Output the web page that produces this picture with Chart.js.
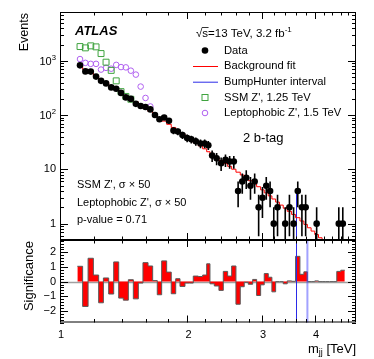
<!DOCTYPE html>
<html>
<head>
<meta charset="utf-8">
<title>Dijet 2 b-tag</title>
<script src="https://cdn.jsdelivr.net/npm/chart.js@4.4.1/dist/chart.umd.min.js"></script>
<style>
  html, body { margin: 0; padding: 0; background: #fff; }
  #wrap { position: relative; width: 374px; height: 359px; }
  canvas { position: absolute; left: 0; }
  #top { top: 0; }
  #bot { top: 240px; }
</style>
</head>
<body>
<div id="wrap">
  <canvas id="top" width="374" height="240"></canvas>
  <canvas id="bot" width="374" height="119"></canvas>
</div>
<script>
// ====== Data ======
// bin edges in TeV (62 bins)
const binEdges = [1.099, 1.131, 1.165, 1.199, 1.234, 1.266, 1.303, 1.339, 1.376, 1.411,
  1.450, 1.490, 1.531, 1.570, 1.614, 1.655, 1.697, 1.738, 1.786, 1.831,
  1.876, 1.920, 1.973, 2.020, 2.064, 2.121, 2.172, 2.220, 2.260, 2.314,
  2.373, 2.430, 2.488, 2.543, 2.603, 2.665, 2.723, 2.783, 2.851, 2.913,
  2.977, 3.036, 3.103, 3.165, 3.230, 3.297, 3.366, 3.440, 3.523, 3.600,
  3.686, 3.766, 3.839, 3.917, 3.996, 4.078, 4.158, 4.243, 4.327, 4.414,
  4.504, 4.603, 4.704];

const dataCounts = [830, 643, 637, 515, 430, 386, 326, 308, 258, 213,
  200, 162, 148, 142, 128, 101, 84, 91, 79, 52,
  50, 43, 38, 36, 33, 30, 30, 28, 18, 16,
  13, 15, 14, 14, 4, 6, 7, 5, 6, 2,
  3, 5, 4, 1, 2, 0, 1, 2, 1, 4,
  2, 2, 0, 0, 1, 0, 0, 0, 0, 0,
  1, 1];

const bkgFit = [805, 700, 610, 530, 462, 403, 350, 305, 266, 231,
  201, 176, 153, 134, 117, 102, 89, 78, 68, 59.5,
  52, 45.5, 40, 35, 31, 27.2, 24, 21.2, 18.7, 16.5,
  14.6, 12.9, 11.4, 10.1, 8.9, 7.9, 7.0, 6.2, 5.5, 4.8,
  4.2, 3.7, 3.25, 2.85, 2.5, 2.2, 1.93, 1.69, 1.48, 1.29,
  1.12, 0.97, 0.84, 0.73, 0.63, 0.55, 0.48, 0.41, 0.36, 0.31,
  0.27, 0.23];

const significance = [1.05, -1.7, 1.6, 0.45, -1.45, 0.25, -0.85, 1.35, -1.13, -1.27,
  0.13, -1.18, -0.1, 1.3, 1.07, 0.07, -0.9, 1.42, 0.65, -0.83,
  0.2, -0.33, -0.1, -0.1, 0.38, 0.35, 0.45, 1.22, -0.15, -0.3,
  -0.6, 0.7, 0.38, 1.07, -1.55, -0.35, -0.05, -0.18, 0.15, -0.95,
  -0.22, 0.55, 0.3, -0.7, 0, 0, -0.15, 0.05, 0.02, 1.73,
  0.5, 0.67, 0, 0, 0.05, 0, 0, 0, 0, 0,
  0.7, 0.78];

// signal + background, first bins only
const ssmSignal = [1845, 1745, 1900, 1820, 1370, 950, 671, 430, 272, 222, 197];
const leptoSignal = [1084, 923, 885, 885, 694, 746, 721, 847, 772, 762, 662, 561, 337, 208, 145];

const bumpInterval = [3.600, 3.839];
const bumpLineTop = 4.2;

// ====== Axis ticks ======
const xTickLabels = [1, 2, 3, 4];
const yTickLabels = [1, 10, 100, 1000];
const sigTickLabels = [2, 1, 0, -1, -2];

const FONT = "'Liberation Sans', Arial, Helvetica, sans-serif";

function binCenter(i) { return (binEdges[i] + binEdges[i + 1]) / 2; }
function stepPoints(vals) {
  return binEdges.map((e, i) => ({ x: e, y: vals[Math.min(i, vals.length - 1)] }));
}

const xMinor = [];
for (let k = 12; k <= 48; k += 2) if (k % 10 !== 0) xMinor.push(k / 10);
const yMinor = [];
[0.1, 1, 10, 100, 1000].forEach(d => {
  for (let m = 2; m <= 9; m++) { const v = m * d; if (v >= 0.5 && v <= 8000) yMinor.push(v); }
});
const sigMinor = [];
for (let k = -14; k <= 14; k++) if (k % 5 !== 0) sigMinor.push(k / 5);

// ====== Drawing helpers ======
function drawFrame(chart, yMaj, yMin) {
  const { ctx, chartArea: a, scales } = chart;
  ctx.save();
  ctx.strokeStyle = '#000';
  ctx.lineWidth = 1;
  ctx.beginPath();
  const xt = xTickLabels.map(v => [v, 7]).concat(xMinor.map(v => [v, 3.5]));
  xt.forEach(([v, L]) => {
    const px = Math.round(scales.x.getPixelForValue(v)) + 0.5;
    ctx.moveTo(px, a.top); ctx.lineTo(px, a.top + L);
    ctx.moveTo(px, a.bottom); ctx.lineTo(px, a.bottom - L);
  });
  const yt = yMaj.map(v => [v, 8]).concat(yMin.map(v => [v, 4]));
  yt.forEach(([v, L]) => {
    const py = Math.round(scales.y.getPixelForValue(v)) + 0.5;
    ctx.moveTo(a.left, py); ctx.lineTo(a.left + L, py);
    ctx.moveTo(a.right, py); ctx.lineTo(a.right - L, py);
  });
  ctx.stroke();
  ctx.strokeRect(a.left + 0.5, a.top + 0.5, a.right - a.left - 1, a.bottom - a.top - 1);
  ctx.restore();
}

function textSup(ctx, x, y, base, sup, size, align) {
  ctx.font = size + 'px ' + FONT;
  const wb = ctx.measureText(base).width;
  const ss = size * 0.7;
  ctx.font = ss + 'px ' + FONT;
  const ws = ctx.measureText(sup).width;
  const x0 = align === 'right' ? x - wb - ws : x;
  ctx.textAlign = 'left';
  ctx.textBaseline = 'middle';
  ctx.font = size + 'px ' + FONT;
  ctx.fillText(base, x0, y);
  ctx.font = ss + 'px ' + FONT;
  ctx.fillText(sup, x0 + wb, y - size * 0.38);
}

function text(ctx, s, x, y, size, align, style) {
  ctx.font = (style ? style + ' ' : '') + size + 'px ' + FONT;
  ctx.textAlign = align || 'left';
  ctx.textBaseline = 'middle';
  ctx.fillText(s, x, y);
}

const GREEN = '#3fa33f';
const PURPLE = '#b060f0';
const BLUE = '#2a2ae8';

// ====== Top panel ======
const topDecor = {
  id: 'topDecor',
  beforeDatasetsDraw(chart) {
    const { ctx, chartArea: a, scales: { x, y } } = chart;
    const px = Math.round(x.getPixelForValue(bumpInterval[0])) + 0.5;
    ctx.save();
    ctx.strokeStyle = BLUE; ctx.lineWidth = 1;
    ctx.beginPath();
    ctx.moveTo(px, a.bottom); ctx.lineTo(px, y.getPixelForValue(bumpLineTop));
    ctx.stroke();
    ctx.restore();
  },
  afterDatasetsDraw(chart) {
    const { ctx, chartArea: a, scales: { x, y } } = chart;
    ctx.save();
    ctx.beginPath(); ctx.rect(a.left, a.top, a.width, a.height); ctx.clip();
    ctx.strokeStyle = '#000'; ctx.lineWidth = 1.6;
    ctx.beginPath();
    dataCounts.forEach((n, i) => {
      if (n <= 0) return;
      const px = x.getPixelForValue(binCenter(i));
      const err = Math.sqrt(n);
      const lo = n - err > 0.3 ? y.getPixelForValue(n - err) : a.bottom + 2;
      ctx.moveTo(px, lo); ctx.lineTo(px, y.getPixelForValue(n + err));
    });
    ctx.stroke();
    ctx.restore();
  },
  afterDraw(chart) {
    const { ctx, scales: { y } } = chart;
    drawFrame(chart, yTickLabels, yMinor);
    ctx.save();
    ctx.fillStyle = '#000';
    yTickLabels.forEach(v => {
      const py = y.getPixelForValue(v);
      if (v <= 10) text(ctx, String(v), 56, py, 11, 'right');
      else textSup(ctx, 56, py + 1, '10', String(Math.round(Math.log10(v))), 11, 'right');
    });
    // y title
    ctx.save();
    ctx.translate(25, 13);
    ctx.rotate(-Math.PI / 2);
    text(ctx, 'Events', 0, 0, 12.5, 'right');
    ctx.restore();

    text(ctx, 'ATLAS', 75, 31, 13, 'left', 'italic bold');

    // sqrt(s) label
    ctx.font = '11.5px ' + FONT;
    const wr = ctx.measureText('\u221A').width;
    const wsl = ctx.measureText('s').width;
    text(ctx, '\u221A', 196, 34, 11.5, 'left');
    ctx.beginPath();
    ctx.strokeStyle = '#000'; ctx.lineWidth = 0.8;
    ctx.moveTo(196 + wr - 0.5, 27.5); ctx.lineTo(196 + wr + wsl + 0.5, 27.5);
    ctx.stroke();
    textSup(ctx, 196 + wr, 34, 's=13 TeV, 3.2 fb', '-1', 11.5, 'left');

    // legend
    const lx = 205, tx = 224;
    const rows = [50.5, 66, 81.7, 97.5, 113];
    ctx.fillStyle = '#000';
    ctx.beginPath(); ctx.arc(lx, rows[0], 3.3, 0, Math.PI * 2); ctx.fill();
    ctx.lineWidth = 1;
    ctx.strokeStyle = '#ff0000';
    ctx.beginPath(); ctx.moveTo(193, rows[1] + 0.5); ctx.lineTo(218, rows[1] + 0.5); ctx.stroke();
    ctx.strokeStyle = BLUE;
    ctx.beginPath(); ctx.moveTo(193, rows[2] + 0.5); ctx.lineTo(218, rows[2] + 0.5); ctx.stroke();
    ctx.strokeStyle = GREEN;
    ctx.strokeRect(lx - 3, rows[3] - 3, 6, 6);
    ctx.strokeStyle = PURPLE;
    ctx.beginPath(); ctx.arc(lx, rows[4], 2.8, 0, Math.PI * 2); ctx.stroke();
    ctx.fillStyle = '#000';
    ['Data', 'Background fit', 'BumpHunter interval', "SSM Z', 1.25 TeV", "Leptophobic Z', 1.5 TeV"]
      .forEach((s, i) => text(ctx, s, tx, rows[i], 11.2, 'left'));

    text(ctx, '2 b-tag', 243, 138.5, 13, 'left');
    text(ctx, "SSM Z', \u03C3 \u00D7 50", 77, 185, 11, 'left');
    text(ctx, "Leptophobic Z', \u03C3 \u00D7 50", 77, 202.7, 11, 'left');
    text(ctx, 'p-value = 0.71', 77, 220, 11, 'left');
    ctx.restore();
  }
};

new Chart(document.getElementById('top'), {
  type: 'scatter',
  data: {
    datasets: [
      {
        label: 'Data',
        data: dataCounts.map((n, i) => ({ x: binCenter(i), y: n })).filter(p => p.y > 0),
        pointRadius: 3.3, backgroundColor: '#000', borderWidth: 0
      },
      {
        label: "SSM Z', 1.25 TeV",
        data: ssmSignal.map((n, i) => ({ x: binCenter(i), y: n })),
        pointStyle: 'rect', pointRadius: 4.2,
        borderColor: GREEN, backgroundColor: 'rgba(0,0,0,0)', borderWidth: 1
      },
      {
        label: "Leptophobic Z', 1.5 TeV",
        data: leptoSignal.map((n, i) => ({ x: binCenter(i), y: n })),
        pointStyle: 'circle', pointRadius: 2.8,
        borderColor: PURPLE, backgroundColor: 'rgba(0,0,0,0)', borderWidth: 1
      },
      {
        label: 'Background fit',
        type: 'line',
        data: stepPoints(bkgFit),
        stepped: 'before',
        borderColor: '#ff0000', borderWidth: 1,
        pointRadius: 0, fill: false, clip: 0
      }
    ]
  },
  options: {
    responsive: false, animation: false, devicePixelRatio: 1,
    layout: { autoPadding: false, padding: { left: 60, right: 18, top: 12, bottom: 0 } },
    plugins: { legend: { display: false }, tooltip: { enabled: false } },
    scales: {
      x: { type: 'logarithmic', min: 1, max: 5, display: false },
      y: { type: 'logarithmic', min: 0.5, max: 8000, display: false }
    }
  },
  plugins: [topDecor]
});

// ====== Bottom panel ======
const botDecor = {
  id: 'botDecor',
  beforeDatasetsDraw(chart) {
    const { ctx, chartArea: a, scales: { y } } = chart;
    const py = Math.round(y.getPixelForValue(0)) + 0.5;
    ctx.save();
    ctx.strokeStyle = '#a0a0a0'; ctx.lineWidth = 1.5;
    ctx.beginPath(); ctx.moveTo(a.left, py); ctx.lineTo(a.right, py); ctx.stroke();
    ctx.restore();
  },
  afterDatasetsDraw(chart) {
    const { ctx, chartArea: a, scales: { x } } = chart;
    ctx.save();
    const p1 = Math.round(x.getPixelForValue(bumpInterval[0])) + 0.5;
    const p2 = x.getPixelForValue(bumpInterval[1]);
    ctx.strokeStyle = BLUE; ctx.lineWidth = 1;
    ctx.beginPath(); ctx.moveTo(p1, a.top); ctx.lineTo(p1, a.bottom); ctx.stroke();
    ctx.strokeStyle = 'rgba(70,70,255,0.5)'; ctx.lineWidth = 2;
    ctx.beginPath(); ctx.moveTo(p2, a.top); ctx.lineTo(p2, a.bottom); ctx.stroke();
    ctx.restore();
  },
  afterDraw(chart) {
    const { ctx, chartArea: a, scales: { x, y } } = chart;
    drawFrame(chart, sigTickLabels, sigMinor);
    ctx.save();
    ctx.fillStyle = '#000';
    sigTickLabels.forEach(v => {
      text(ctx, v < 0 ? '\u2212' + (-v) : String(v), 56, y.getPixelForValue(v), 11, 'right');
    });
    xTickLabels.forEach(v => {
      text(ctx, String(v), x.getPixelForValue(v) + 1, a.bottom + 12.5, 11, 'center');
    });
    // y title
    ctx.save();
    ctx.translate(29, 1);
    ctx.rotate(-Math.PI / 2);
    text(ctx, 'Significance', 0, 0, 13, 'right');
    ctx.restore();
    // x title m_jj [TeV]
    const base = 13, sub = 9;
    ctx.font = base + 'px ' + FONT;
    const wm = ctx.measureText('m').width;
    const wt = ctx.measureText(' [TeV]').width;
    ctx.font = sub + 'px ' + FONT;
    const wj = ctx.measureText('jj').width;
    let xs = 356 - wm - wj - wt;
    const yb = 109;
    text(ctx, 'm', xs, yb, base, 'left');
    text(ctx, 'jj', xs + wm, yb + 4, sub, 'left');
    text(ctx, ' [TeV]', xs + wm + wj, yb, base, 'left');
    ctx.restore();
  }
};

new Chart(document.getElementById('bot'), {
  type: 'line',
  data: {
    datasets: [{
      label: 'Significance',
      data: stepPoints(significance),
      stepped: 'before',
      fill: 'origin',
      backgroundColor: '#ff0000',
      borderColor: '#5a5a5a', borderWidth: 1,
      pointRadius: 0, clip: 0
    }]
  },
  options: {
    responsive: false, animation: false, devicePixelRatio: 1,
    layout: { autoPadding: false, padding: { left: 60, right: 18, top: 0, bottom: 36.5 } },
    plugins: { legend: { display: false }, tooltip: { enabled: false } },
    scales: {
      x: { type: 'logarithmic', min: 1, max: 5, display: false },
      y: { type: 'linear', min: -2.8, max: 2.85, display: false }
    }
  },
  plugins: [botDecor]
});
</script>
</body>
</html>
